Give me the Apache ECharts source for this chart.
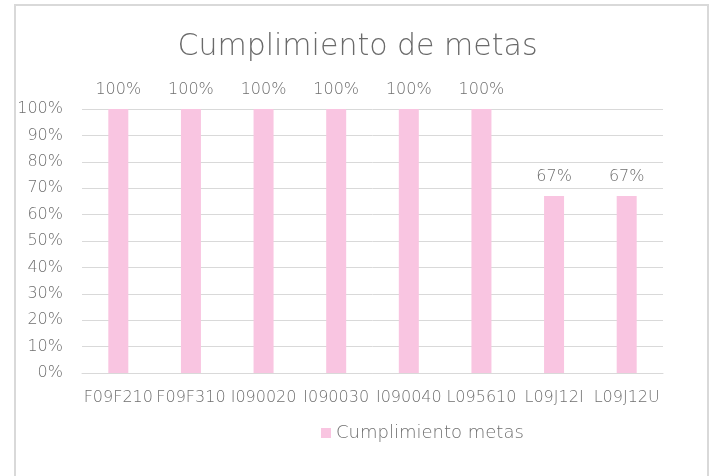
<!DOCTYPE html>
<html>
<head>
<meta charset="utf-8">
<script src="https://cdn.jsdelivr.net/npm/echarts@6/dist/echarts.min.js"></script>
<style>html,body{margin:0;padding:0;background:#fff}#c{width:715px;height:476px}</style>
</head>
<body>
<div id="c"></div>
<script>
var categories = ['F09F210','F09F310','I090020','I090030','I090040','L095610','L09J12I','L09J12U'];
var values = [100, 100, 100, 100, 100, 100, 67, 67];
var yTicks = { min: 0, max: 100, interval: 10 };
var seriesName = 'Cumplimiento metas';
var titleText = 'Cumplimiento de metas';

var FONT = '"DejaVu Sans", sans-serif';
var TXT = '#6f6f6f';
var chart = echarts.init(document.getElementById('c'));
chart.setOption({
  animation: false,
  backgroundColor: '#fff',
  graphic: [{
    type: 'rect', silent: true, z: -1,
    shape: { x: 15, y: 5, width: 693, height: 520 },
    style: { fill: '#fff', stroke: '#d9d9d9', lineWidth: 2 }
  }],
  title: {
    text: titleText, left: 'center', top: 27,
    textStyle: { fontFamily: FONT, fontWeight: 200, fontSize: 30, color: '#6a6a6a' }
  },
  legend: {
    data: [seriesName], left: 321, top: 424, padding: 0, icon: 'rect', itemWidth: 10, itemHeight: 10, itemGap: 4,
    textStyle: { fontFamily: FONT, fontWeight: 200, fontSize: 18, color: TXT }
  },
  grid: { left: 82, right: 52, top: 109, bottom: 103, containLabel: false },
  xAxis: {
    type: 'category', data: categories,
    axisLine: { lineStyle: { color: '#d9d9d9', width: 1 } },
    axisTick: { show: false },
    axisLabel: { fontFamily: FONT, fontWeight: 200, fontSize: 16, color: TXT, margin: 17, interval: 0 }
  },
  yAxis: {
    type: 'value', min: yTicks.min, max: yTicks.max, interval: yTicks.interval,
    axisLine: { show: false }, axisTick: { show: false },
    splitLine: { lineStyle: { color: '#d9d9d9', width: 1 } },
    axisLabel: { fontFamily: FONT, fontWeight: 200, fontSize: 16, color: TXT, margin: 19, formatter: '{value}%' }
  },
  series: [{
    name: seriesName, type: 'bar', data: values, barWidth: 20,
    itemStyle: { color: '#f9c5e1' },
    label: {
      show: true, position: 'top', distance: 11, formatter: '{c}%',
      fontFamily: FONT, fontWeight: 200, fontSize: 16, color: TXT
    }
  }]
});
</script>
</body>
</html>
